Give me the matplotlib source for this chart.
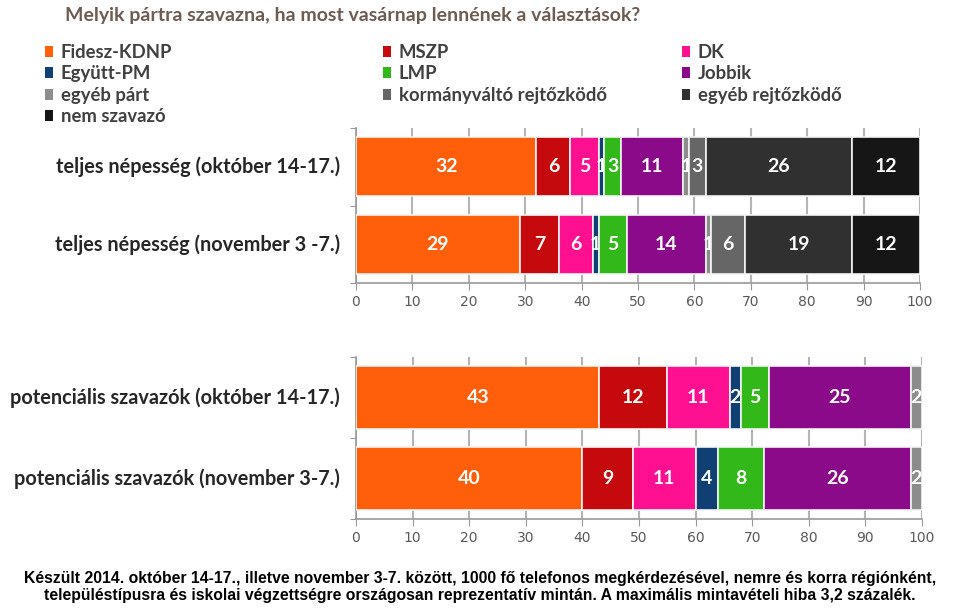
import matplotlib.pyplot as plt
from matplotlib.patches import Patch

# --- data ---
parties = ["Fidesz-KDNP", "MSZP", "DK", "Együtt-PM", "LMP", "Jobbik",
           "egyéb párt", "kormányváltó rejtőzködő", "egyéb rejtőzködő", "nem szavazó"]
colors = ["#ff5f0a", "#c5090c", "#ff1090", "#0f3f73", "#33b81a", "#8a0a8a",
          "#8c8c8c", "#666666", "#303030", "#161616"]

top_cats = ["teljes népesség (október 14-17.)", "teljes népesség (november 3 -7.)"]
top_okt = [32, 6, 5, 1, 3, 11, 1, 3, 26, 12]
top_nov = [29, 7, 6, 1, 5, 14, 1, 6, 19, 12]

bot_cats = ["potenciális szavazók (október 14-17.)", "potenciális szavazók (november 3-7.)"]
bot_okt = [43, 12, 11, 2, 5, 25, 2]
bot_nov = [40, 9, 11, 4, 8, 26, 2]

ticks = list(range(0, 101, 10))

title = "Melyik pártra szavazna, ha most vasárnap lennének a választások?"
footnote = ("Készült 2014. október 14-17., illetve november 3-7. között, 1000 fő telefonos megkérdezésével, nemre és korra régiónként,\n"
            "településtípusra és iskolai végzettségre országosan reprezentatív mintán. A maximális mintavételi hiba 3,2 százalék.")

W, H = 960, 614
fig = plt.figure(figsize=(W / 100, H / 100), dpi=100)


def draw_panel(rect, cats, rows, bar_h):
    ax = fig.add_axes(rect)
    for i, vals in enumerate(rows):
        left = 0
        for j, v in enumerate(vals):
            b = ax.barh(i, v, left=left, height=bar_h, color=colors[j],
                        edgecolor="#f4f4f4", linewidth=1.2, zorder=3)
            ax.bar_label(b, labels=[str(v)], label_type="center", color="white",
                         fontsize=14, fontweight="bold", family="Lato")
            left += v
    ax.set_xlim(0, 100)
    ax.set_ylim(1.5, -0.5)
    ax.set_xticks(ticks)
    ax.set_yticks([-0.5, 0.5, 1.5], minor=False)
    ax.set_yticklabels([])
    ax.tick_params(axis="y", length=4, color="#999999", direction="out")
    ax.tick_params(axis="x", length=5, color="#999999", labelcolor="#595959",
                   labelsize=10, pad=4)
    ax.grid(axis="x", color="#b5b5b5", linewidth=1.5, zorder=0)
    for s in ["top", "right"]:
        ax.spines[s].set_visible(False)
    for s in ["left", "bottom"]:
        ax.spines[s].set_color("#999999")
        ax.spines[s].set_linewidth(1.2)
    for i, c in enumerate(cats):
        ax.text(-0.028, i, c, transform=ax.get_yaxis_transform(), ha="right",
                va="center", fontsize=14.3, fontweight="bold", color="#262626",
                family="Lato")
    return ax


draw_panel([356 / W, 1 - 283 / H, 564 / W, 155 / H], top_cats, [top_okt, top_nov], 0.76)
draw_panel([356 / W, 1 - 519 / H, 566 / W, 162 / H], bot_cats, [bot_okt, bot_nov], 0.77)

fig.text(65 / W, 1 - 15 / H, title, ha="left", va="center", fontsize=14,
         fontweight="bold", color="#6d5c52", family="Lato")

# legend, filled row by row in three columns
handles = [Patch(facecolor=c, edgecolor="none") for c in colors]
col_x = [45, 383, 682]
for k in range(3):
    idx = list(range(k, len(parties), 3))
    fig.legend([handles[i] for i in idx], [parties[i] for i in idx],
               loc="upper left", bbox_to_anchor=(col_x[k] / W, 1 - 44 / H),
               frameon=False, handlelength=0.45, handleheight=0.55,
               handletextpad=0.4, labelspacing=0.24, borderpad=0, borderaxespad=0,
               prop={"family": "Lato", "weight": "bold", "size": 13.3},
               labelcolor="#404040")

fig.text(0.5, 1 - 587 / H, footnote, ha="center", va="center", fontsize=11.3,
         fontweight="bold", color="black", family="Liberation Sans", linespacing=1.2)

fig.savefig("out.png", dpi=100)
